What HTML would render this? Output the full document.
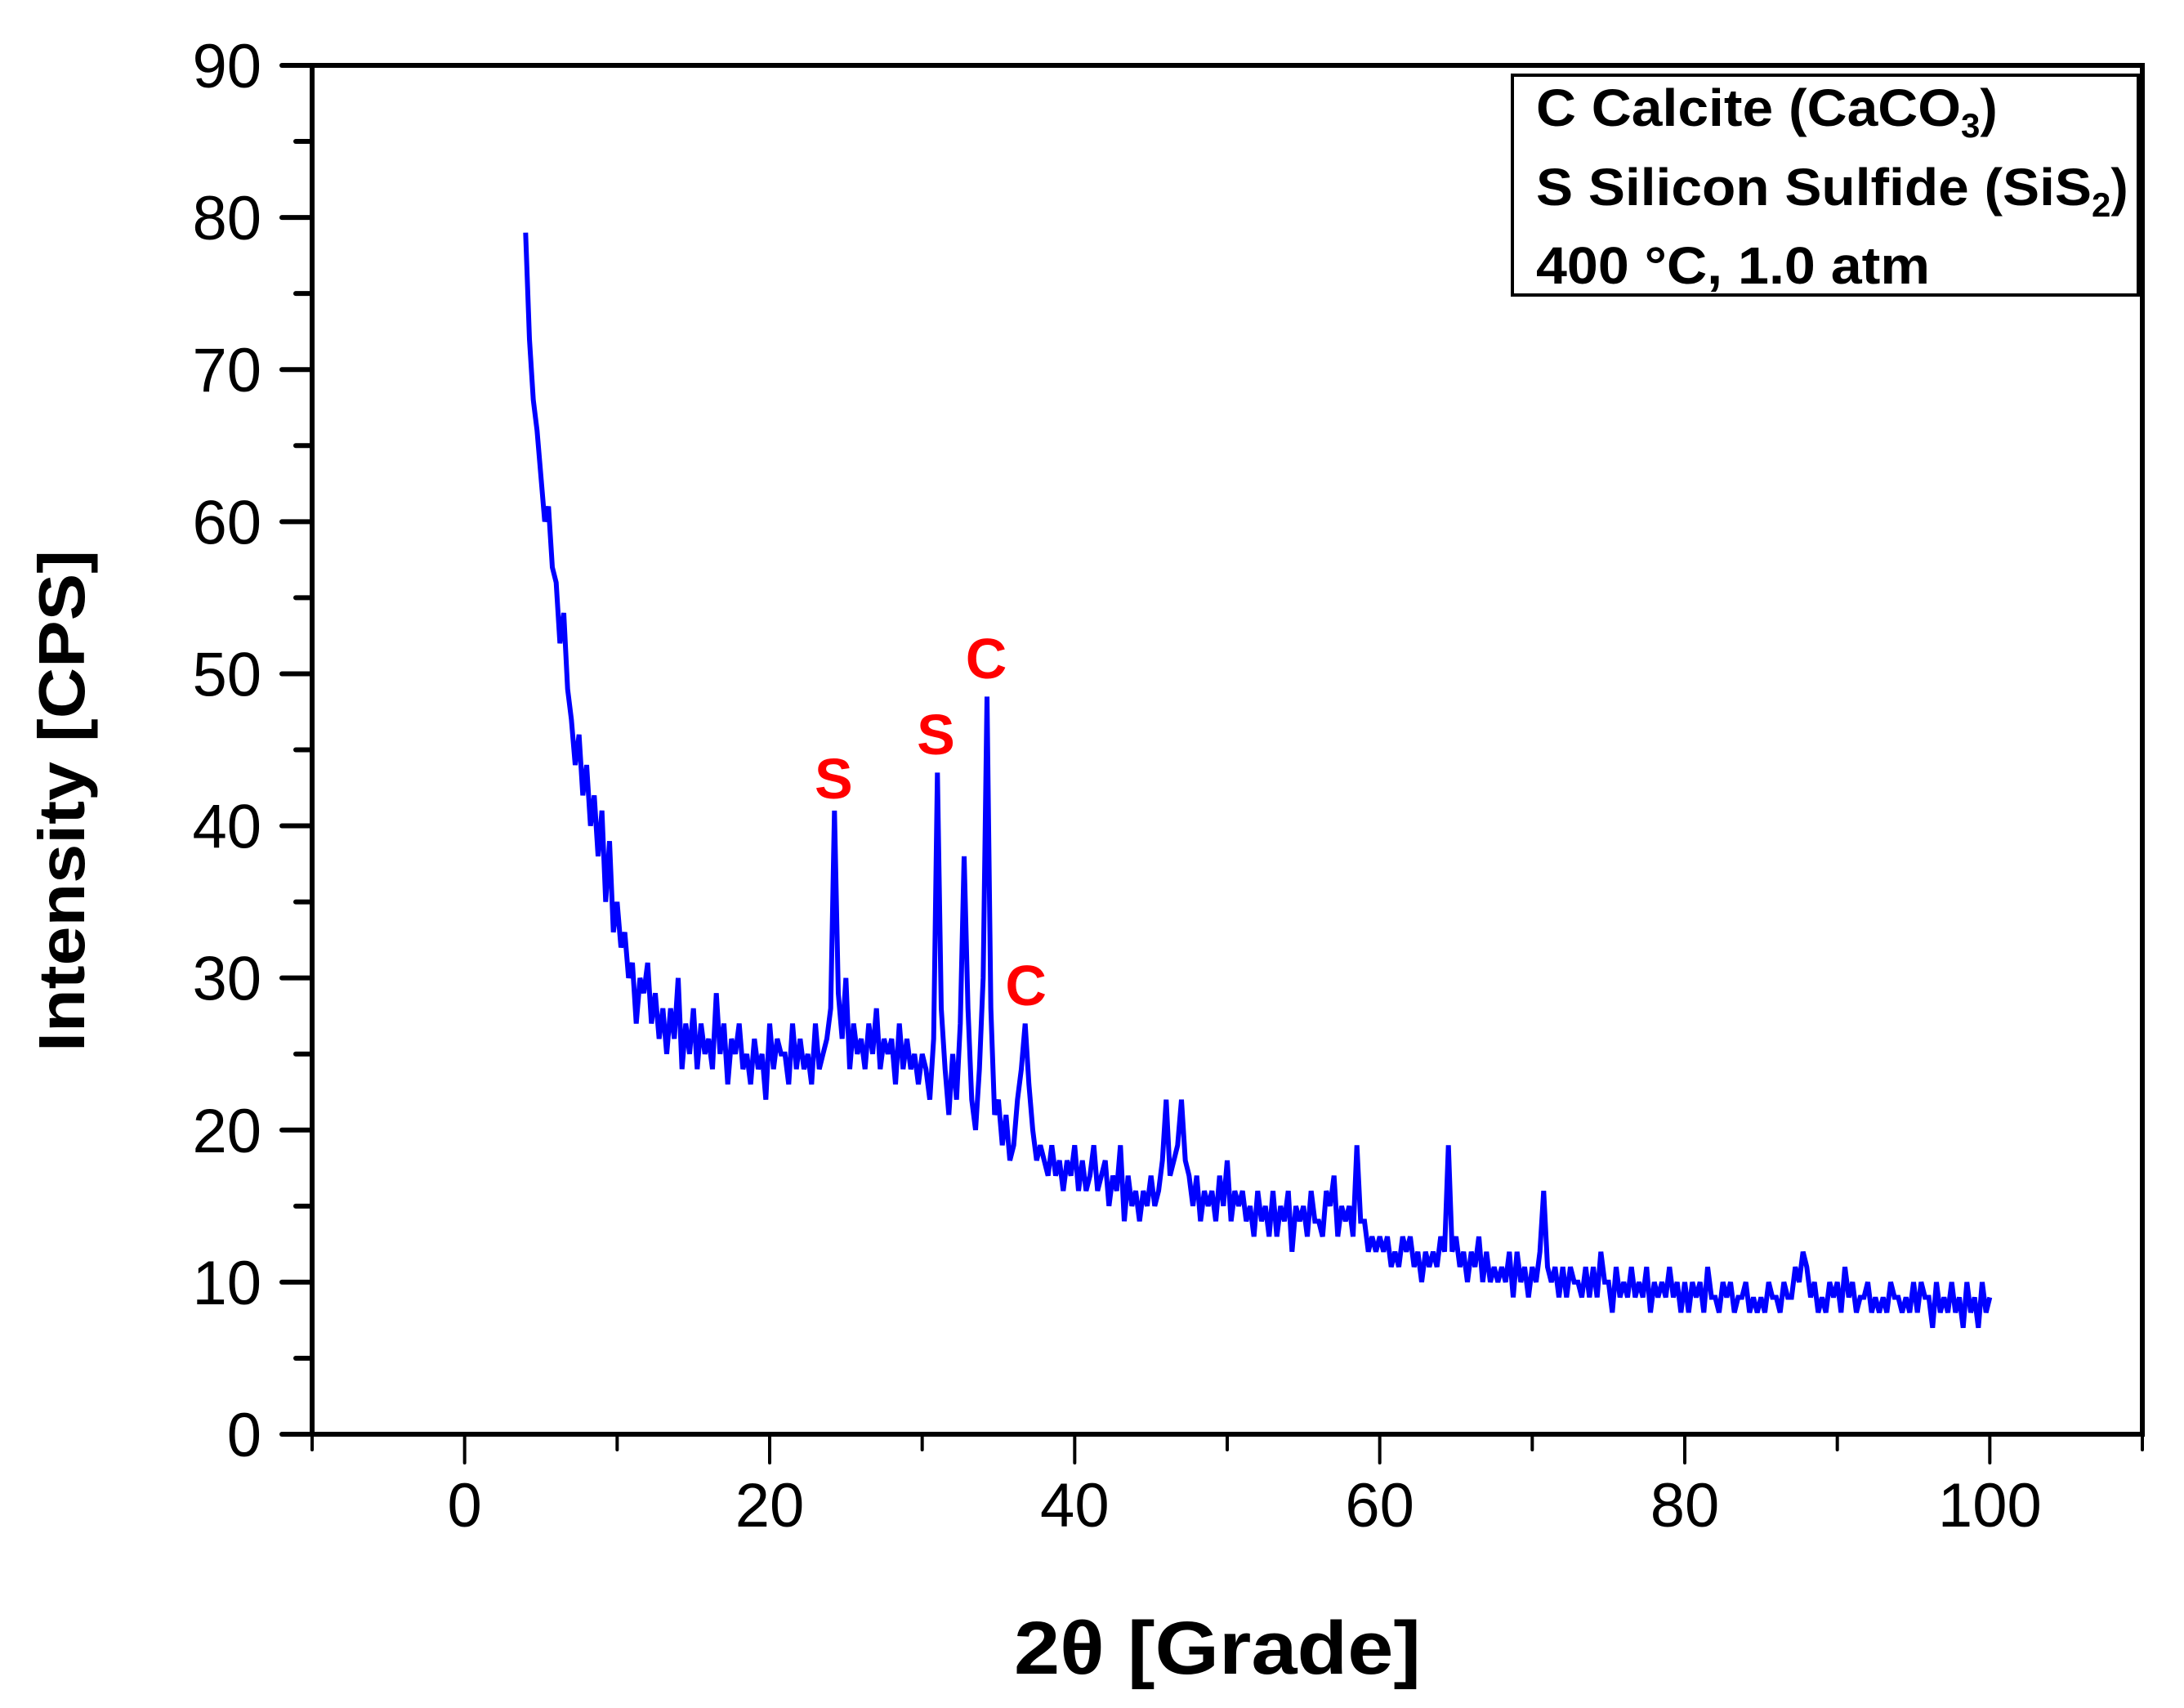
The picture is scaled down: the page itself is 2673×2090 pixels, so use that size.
<!DOCTYPE html>
<html><head><meta charset="utf-8"><style>
html,body{margin:0;padding:0;background:#fff;}
svg{display:block;}
text{font-family:"Liberation Sans",Arial,sans-serif;}
</style></head><body>
<svg id="chart" width="2673" height="2090" viewBox="0 0 2673 2090" xmlns="http://www.w3.org/2000/svg">
<rect width="2673" height="2090" fill="#fff"/>
<g id="axes"></g>
<g id="series"></g>
<g id="peaks"></g>
<g>
<rect x="1851" y="92" width="766" height="269" fill="#fff" stroke="#000" stroke-width="4"/>
<text x="1880" y="154" font-size="64" font-weight="bold" fill="#000"><tspan textLength="520" lengthAdjust="spacingAndGlyphs">C Calcite (CaCO</tspan><tspan dy="14" font-size="42">3</tspan><tspan dy="-14">)</tspan></text>
<text x="1880" y="251" font-size="64" font-weight="bold" fill="#000"><tspan textLength="680" lengthAdjust="spacingAndGlyphs">S Silicon Sulfide (SiS</tspan><tspan dy="14" font-size="42">2</tspan><tspan dy="-14">)</tspan></text>
<text x="1880" y="347" font-size="64" font-weight="bold" fill="#000" textLength="482" lengthAdjust="spacingAndGlyphs">400 °C, 1.0 atm</text>
</g>
<text transform="translate(103,980) rotate(-90)" text-anchor="middle" font-size="80" font-weight="bold" textLength="614" lengthAdjust="spacingAndGlyphs">Intensity [CPS]</text>
<text x="1490" y="2048" text-anchor="middle" font-size="92" font-weight="bold" textLength="498" lengthAdjust="spacingAndGlyphs">2θ [Grade]</text>
</svg>
<script>
const xStart = 4;
const xStep = 0.25;
const intensity = [
79,72,68,66, 63,60,61,57, 56,52,54,49, 47,44,46,42, 44,40,42,38,
41,35,39,33, 35,32,33,30, 31,27,30,29, 31,27,29,26, 28,25,28,26,
30,24,27,25, 28,24,27,25, 26,24,29,25, 27,23,26,25, 27,24,25,23,
26,24,25,22, 27,24,26,25, 25,23,27,24, 26,24,25,23, 27,24,25,26,
28,41,29,26, 30,24,27,25, 26,24,27,25, 28,24,26,25, 26,23,27,24,
26,24,25,23, 25,24,22,26, 43.5,28,24,21, 25,22,27,38, 28,22,20,24,
30,48.5,28,21, 22,19,21,18, 19,22,24,27, 23,20,18,19, 18,17,19,17,
18,16,18,17, 19,16,18,16, 17,19,16,17, 18,15,17,16, 19,14,17,15,
16,14,16,15, 17,15,16,18, 22,17,18,19, 22,18,17,15, 17,14,16,15,
16,14,17,15, 18,14,16,15, 16,14,15,13, 16,14,15,13, 16,13,15,14,
16,12,15,14, 15,13,16,14, 14,13,16,15, 17,13,15,14, 15,13,19,14,
14,12,13,12, 13,12,13,11, 12,11,13,12, 13,11,12,10, 12,11,12,11,
13,12,19,12, 13,11,12,10, 12,11,13,10, 12,10,11,10, 11,10,12,9,
12,10,11,9, 11,10,12,16, 11,10,11,9, 11,9,11,10, 10,9,11,9,
11,9,12,10, 10,8,11,9, 10,9,11,9, 10,9,11,8, 10,9,10,9,
11,9,10,8, 10,8,10,9, 10,8,11,9, 9,8,10,9, 10,8,9,9,
10,8,9,8, 9,8,10,9, 9,8,10,9, 9,11,10,12, 11,9,10,8,
9,8,10,9, 10,8,11,9, 10,8,9,9, 10,8,9,8, 9,8,10,9,
9,8,9,8, 10,8,10,9, 9,7,10,8, 9,8,10,8, 9,7,10,8,
9,7,10,8, 9
];
const yTicks = [0,10,20,30,40,50,60,70,80,90];
const xTicks = [0,20,40,60,80,100];
const peakLabels = ["S","S","C","C"];
const peakX = [24.2,30.9,34.2,36.8];
const peakY = [41.8,44.7,49.7,28.2];

const NS = "http://www.w3.org/2000/svg";
const X0 = 382, X1 = 2622, Y0 = 1755, Y1 = 80;
const xMin = -10, xMax = 110, yMin = 0, yMax = 90;
function sx(v){ return X0 + (v - xMin) / (xMax - xMin) * (X1 - X0); }
function sy(v){ return Y0 - (v - yMin) / (yMax - yMin) * (Y0 - Y1); }
function mk(tag, attrs, parent){ const e = document.createElementNS(NS, tag); for (const k in attrs) e.setAttribute(k, attrs[k]); parent.appendChild(e); return e; }

const axes = document.getElementById('axes');
const frame = mk('rect', {x:X0, y:Y1, width:X1-X0, height:Y0-Y1, fill:'none', stroke:'#000', 'stroke-width':6}, axes);



for (let v = yMin; v <= yMax; v += 5) {
  const major = v % 10 === 0;
  const t = mk('line', {x1: major ? 345 : 362, x2: X0, y1: sy(v), y2: sy(v), stroke:'#000', 'stroke-width':6, 'stroke-linecap':'round'}, axes);
  
  
}
yTicks.forEach(v => {
  const t = mk('text', {x:320, y: sy(v) + 27, 'text-anchor':'end', 'font-size':76, fill:'#000'}, axes);
  t.textContent = v;
  
  
});
for (let v = xMin; v <= xMax; v += 10) {
  const major = v % 20 === 0;
  const t = mk('line', {x1: sx(v), x2: sx(v), y1: Y0, y2: major ? 1790 : 1774, stroke:'#000', 'stroke-width':4, 'stroke-linecap':'round'}, axes);
  
  
}
xTicks.forEach(v => {
  const t = mk('text', {x: sx(v), y: 1868, 'text-anchor':'middle', 'font-size':76, fill:'#000'}, axes);
  t.textContent = v;
  
  
});

const pts = intensity.map((v, i) => sx(xStart + i * xStep).toFixed(1) + ',' + sy(v).toFixed(1)).join(' ');
const line = mk('polyline', {points: pts, fill:'none', stroke:'#0000ff', 'stroke-width':6, 'stroke-linejoin':'miter', 'stroke-miterlimit':3}, document.getElementById('series'));



const pg = document.getElementById('peaks');
peakLabels.forEach((s, i) => {
  const t = mk('text', {x: sx(peakX[i]), y: sy(peakY[i]), 'text-anchor':'middle', 'font-size':70, 'font-weight':'bold', fill:'#ff0000'}, pg);
  t.textContent = s;
  
  
});
</script>
</body></html>
